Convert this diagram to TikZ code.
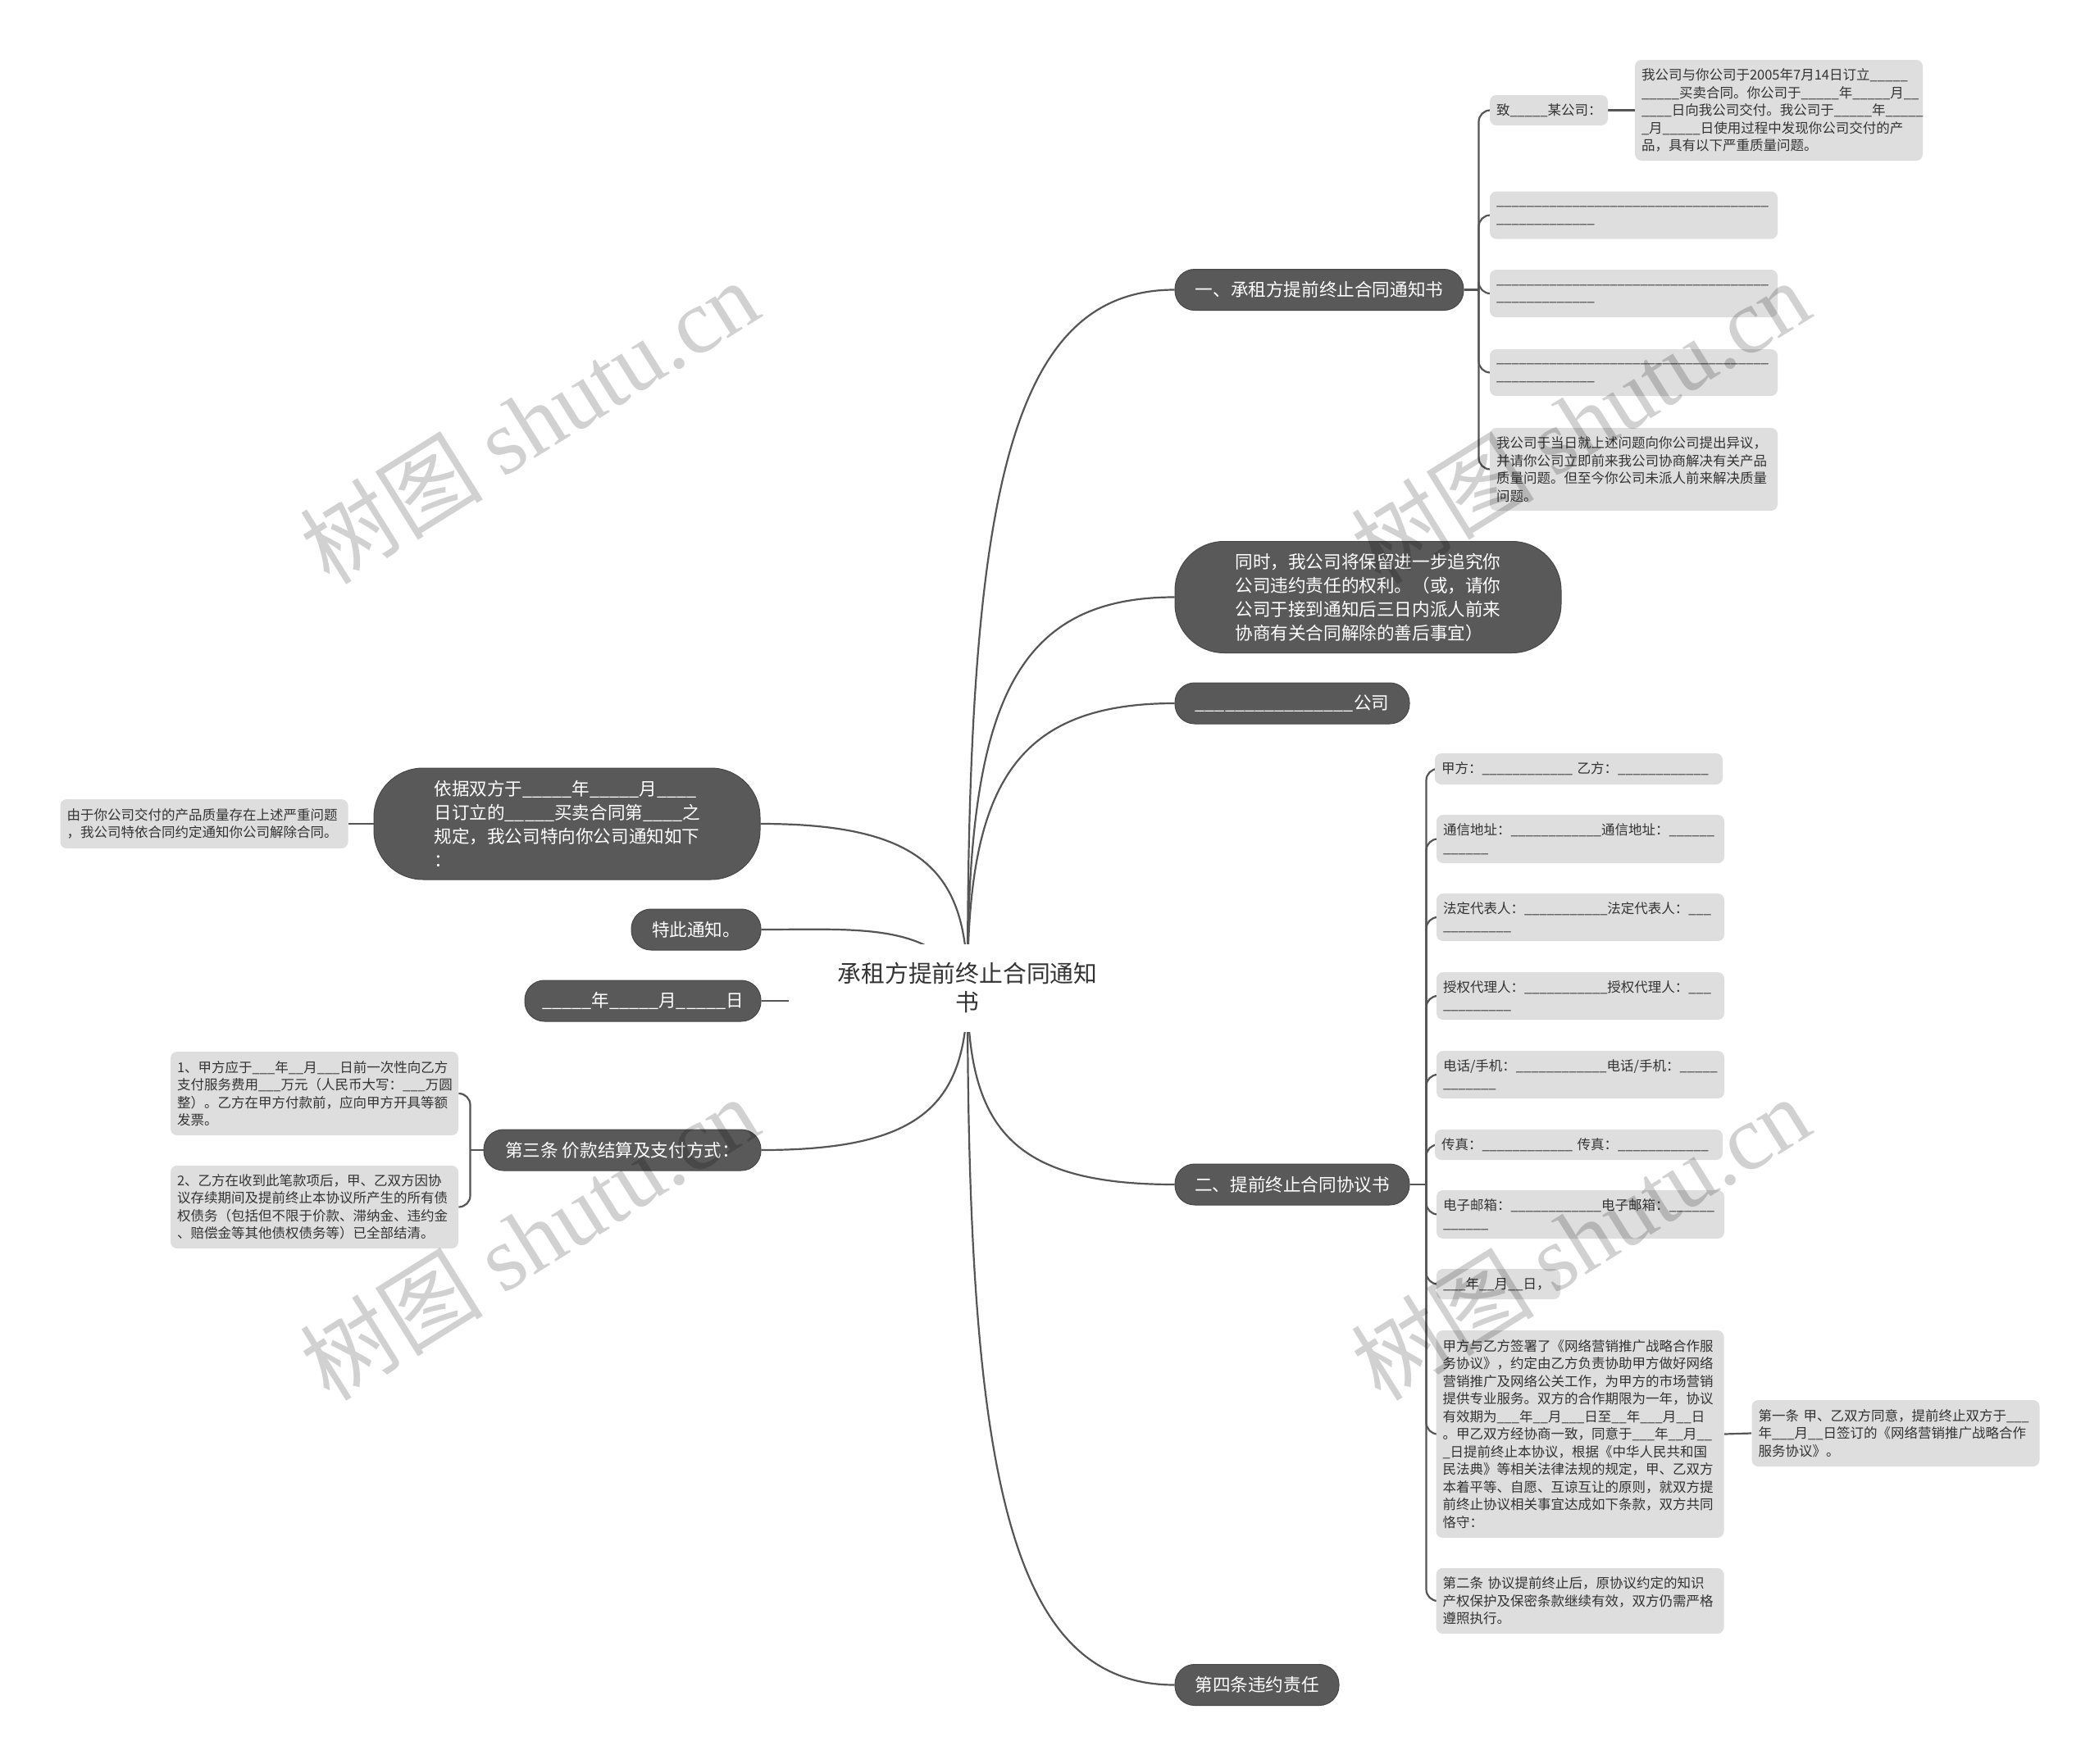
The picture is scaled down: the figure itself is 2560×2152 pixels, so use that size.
\documentclass[tikz,border=0pt]{standalone}
\usepackage{fontspec}
\setmainfont{Noto Sans CJK SC}
\newfontfamily\wmfont{Liberation Serif}
\usepackage{tikz}
\usetikzlibrary{backgrounds}
\definecolor{mydark}{RGB}{89,89,89}
\definecolor{mylight}{RGB}{222,222,222}
\definecolor{mytext}{RGB}{51,51,51}
\definecolor{myline}{RGB}{85,85,85}
\newcommand\hx[1]{\foreach \ii in {1,...,#1}{\_}}
\tikzset{
  root/.style={rectangle, fill=white, minimum width=218pt, minimum height=53.5pt,
    align=center, text=mytext, font=\fontsize{14.4}{17.5}\selectfont},
  topic/.style={rectangle, rounded corners=12pt, fill=mydark, draw=mydark!80!black,
    line width=0.5pt, text=white, minimum height=25pt, inner xsep=0pt,
    font=\fontsize{10.8}{14.5}\selectfont},
  bigtopic/.style={topic, rounded corners=30pt, text width=162pt, inner xsep=36.75pt,
    align=left, minimum height=68pt},
  leaf/.style={rectangle, rounded corners=4pt, fill=mylight, text=mytext,
    text width=167.5pt, inner xsep=4pt, inner ysep=3pt, align=left,
    font=\fontsize{8.25}{10.75}\selectfont},
  link/.style={draw=myline, line width=1.1pt},
  wmark/.style={text=black, text opacity=0.18, rotate=32, font=\fontsize{56}{60}\selectfont}
}

\begin{document}
\begin{tikzpicture}[x=0.5pt, y=-0.5pt]
  \useasboundingbox (0,0) rectangle (2560,2152);

  % Centre
  \node[root] (title) at (1180,1205) {承租方提前终止合同通知\\书};

  % Right branches
  \node[topic, minimum width=176pt] (notice) at (1609,353.5) {一、承租方提前终止合同通知书};
  \node[bigtopic] (reserve) at (1668.5,728.5) {同时，我公司将保留进一步追究你\\公司违约责任的权利。（或，请你\\公司于接到通知后三日内派人前来\\协商有关合同解除的善后事宜）};
  \node[topic, minimum width=143pt] (company) at (1576,858) {\hx{16}公司};
  \node[topic, minimum width=143pt] (agreement) at (1576,1445) {二、提前终止合同协议书};
  \node[topic, minimum width=100pt] (breach) at (1533,2055.5) {第四条违约责任};

  % Left branches
  \node[bigtopic] (basis) at (691.5,1005) {依据双方于\hx{5}年\hx{5}月\hx{4}\\日订立的\hx{5}买卖合同第\hx{4}之\\规定，我公司特向你公司通知如下\\：};
  \node[topic, minimum width=79pt] (hereby) at (849,1134) {特此通知。};
  \node[topic, minimum width=144pt] (signdate) at (784,1221) {\hx{5}年\hx{5}月\hx{5}日};
  \node[topic, minimum width=169pt] (payment) at (759,1403) {第三条 价款结算及支付方式：};

  % Notice leaves
  \node[leaf, text width=64pt, minimum height=18.5pt] (addressee) at (1889,134.5) {致\hx{5}某公司：};
  \node[leaf, minimum height=61.5pt] (facts) at (2169.5,134.5) {我公司与你公司于2005年7月14日订立\hx{5}\\\hx{5}买卖合同。你公司于\hx{5}年\hx{5}月\hx{2}\\\hx{4}日向我公司交付。我公司于\hx{5}年\hx{5}\\\hx{1}月\hx{5}日使用过程中发现你公司交付的产\\品，具有以下严重质量问题。};
  \node[leaf, minimum height=29pt] (blank1) at (1992.5,262.5) {\hx{36}\\\hx{13}};
  \node[leaf, minimum height=29pt] (blank2) at (1992.5,358) {\hx{36}\\\hx{13}};
  \node[leaf, minimum height=28.5pt] (blank3) at (1992.5,454.5) {\hx{36}\\\hx{13}};
  \node[leaf, minimum height=50.5pt] (objection) at (1992.5,572.5) {我公司于当日就上述问题向你公司提出异议，\\并请你公司立即前来我公司协商解决有关产品\\质量问题。但至今你公司未派人前来解决质量\\问题。};

  % Agreement leaves
  \node[leaf, minimum height=19pt] (parties) at (1925.5,938) {甲方：\hx{12}~乙方：\hx{12}};
  \node[leaf, minimum height=29.5pt] (address) at (1927.5,1023.5) {通信地址：\hx{12}通信地址：\hx{6}\\\hx{6}};
  \node[leaf, minimum height=29pt] (legalrep) at (1927.5,1119) {法定代表人：\hx{11}法定代表人：\hx{3}\\\hx{9}};
  \node[leaf, minimum height=29pt] (agent) at (1927.5,1215) {授权代理人：\hx{11}授权代理人：\hx{3}\\\hx{9}};
  \node[leaf, minimum height=29pt] (phone) at (1927.5,1311) {电话/手机：\hx{12}电话/手机：\hx{5}\\\hx{7}};
  \node[leaf, minimum height=18.5pt] (fax) at (1925.5,1396.5) {传真：\hx{12}~传真：\hx{12}};
  \node[leaf, minimum height=29.5pt] (email) at (1927.5,1481.5) {电子邮箱：\hx{12}电子邮箱：\hx{6}\\\hx{6}};
  \node[leaf, text width=67.5pt, minimum height=18.5pt] (datefill) at (1827.5,1566.5) {\hx{3}年\hx{2}月\hx{2}日，};
  \node[leaf, minimum height=126.5pt] (recital) at (1927,1749.5) {甲方与乙方签署了《网络营销推广战略合作服\\务协议》，约定由乙方负责协助甲方做好网络\\营销推广及网络公关工作，为甲方的市场营销\\提供专业服务。双方的合作期限为一年，协议\\有效期为\hx{3}年\hx{2}月\hx{3}日至\hx{2}年\hx{3}月\hx{2}日\\。甲乙双方经协商一致，同意于\hx{3}年\hx{2}月\hx{2}\\\hx{1}日提前终止本协议，根据《中华人民共和国\\民法典》等相关法律法规的规定，甲、乙双方\\本着平等、自愿、互谅互让的原则，就双方提\\前终止协议相关事宜达成如下条款，双方共同\\恪守：};
  \node[leaf, minimum height=40.5pt] (art1) at (2312,1748.5) {第一条~甲、乙双方同意，提前终止双方于\hx{3}\\年\hx{3}月\hx{2}日签订的《网络营销推广战略合作\\服务协议》。};
  \node[leaf, minimum height=40pt] (art2) at (1927,1953) {第二条~协议提前终止后，原协议约定的知识\\产权保护及保密条款继续有效，双方仍需严格\\遵照执行。};

  % Left leaves
  \node[leaf, minimum height=30pt] (reason) at (249,1005) {由于你公司交付的产品质量存在上述严重问题\\，我公司特依合同约定通知你公司解除合同。};
  \node[leaf, minimum height=51pt] (pay1) at (383.5,1334) {1、甲方应于\hx{3}年\hx{2}月\hx{3}日前一次性向乙方\\支付服务费用\hx{3}万元（人民币大写：\hx{3}万圆\\整）。乙方在甲方付款前，应向甲方开具等额\\发票。};
  \node[leaf, minimum height=50.5pt] (pay2) at (383.5,1472.5) {2、乙方在收到此笔款项后，甲、乙双方因协\\议存续期间及提前终止本协议所产生的所有债\\权债务（包括但不限于价款、滞纳金、违约金\\、赔偿金等其他债权债务等）已全部结清。};

  % Connectors
  \begin{scope}[on background layer]
    \fill[white] (0,0) rectangle (2560,2152);
    \draw[link] (title.center) .. controls +(0,-595) and +(-203,0) .. (notice.west);
    \draw[link] (title.center) .. controls +(0,-333) and +(-203,0) .. (reserve.west);
    \draw[link] (title.center) .. controls +(0,-240) and +(-200,0) .. (company.west);
    \draw[link] (title.center) .. controls +(0,170) and +(-200,0) .. (agreement.west);
    \draw[link] (title.center) .. controls +(0,600) and +(-200,0) .. (breach.west);
    \draw[link] (title.center) .. controls +(0,-140) and +(200,0) .. (basis.east);
    \draw[link] (title.center) .. controls +(-40,-80) and +(120,0) .. (hereby.east);
    \draw[link] (signdate.east) -- (signdate.east -| title.center);
    \draw[link] (title.center) .. controls +(0,140) and +(200,0) .. (payment.east);

    \draw[link] (notice.east) -- ++(18,0) coordinate (nj);
    \draw[link, rounded corners=7pt] (nj) |- (addressee.west);
    \draw[link, rounded corners=7pt] (nj) |- (blank1.west);
    \draw[link, rounded corners=7pt] (nj) |- (blank2.west);
    \draw[link, rounded corners=7pt] (nj) |- (blank3.west);
    \draw[link, rounded corners=7pt] (nj) |- (objection.west);
    \draw[link] (addressee.east) -- (facts.west);

    \draw[link] (agreement.east) -- ++(20,0) coordinate (aj);
    \draw[link, rounded corners=7pt] (aj) |- (parties.west);
    \draw[link, rounded corners=7pt] (aj) |- (address.west);
    \draw[link, rounded corners=7pt] (aj) |- (legalrep.west);
    \draw[link, rounded corners=7pt] (aj) |- (agent.west);
    \draw[link, rounded corners=7pt] (aj) |- (phone.west);
    \draw[link, rounded corners=7pt] (aj) |- (fax.west);
    \draw[link, rounded corners=7pt] (aj) |- (email.west);
    \draw[link, rounded corners=7pt] (aj) |- (datefill.west);
    \draw[link, rounded corners=7pt] (aj) |- (recital.west);
    \draw[link, rounded corners=7pt] (aj) |- (art2.west);
    \draw[link] (recital.east) -- (art1.west);

    \draw[link] (basis.west) -- (reason.east);
    \draw[link] (payment.west) -- ++(-16,0) coordinate (pj);
    \draw[link, rounded corners=7pt] (pj) |- (pay1.east);
    \draw[link, rounded corners=7pt] (pj) |- (pay2.east);
  \end{scope}

  % Watermarks
  \node[wmark] (wm1) at (645,514) {树图 {\wmfont shutu.cn}};
  \node[wmark] (wm2) at (1927,514) {树图 {\wmfont shutu.cn}};
  \node[wmark] (wm3) at (645,1510) {树图 {\wmfont shutu.cn}};
  \node[wmark] (wm4) at (1927,1510) {树图 {\wmfont shutu.cn}};
\end{tikzpicture}
\end{document}
